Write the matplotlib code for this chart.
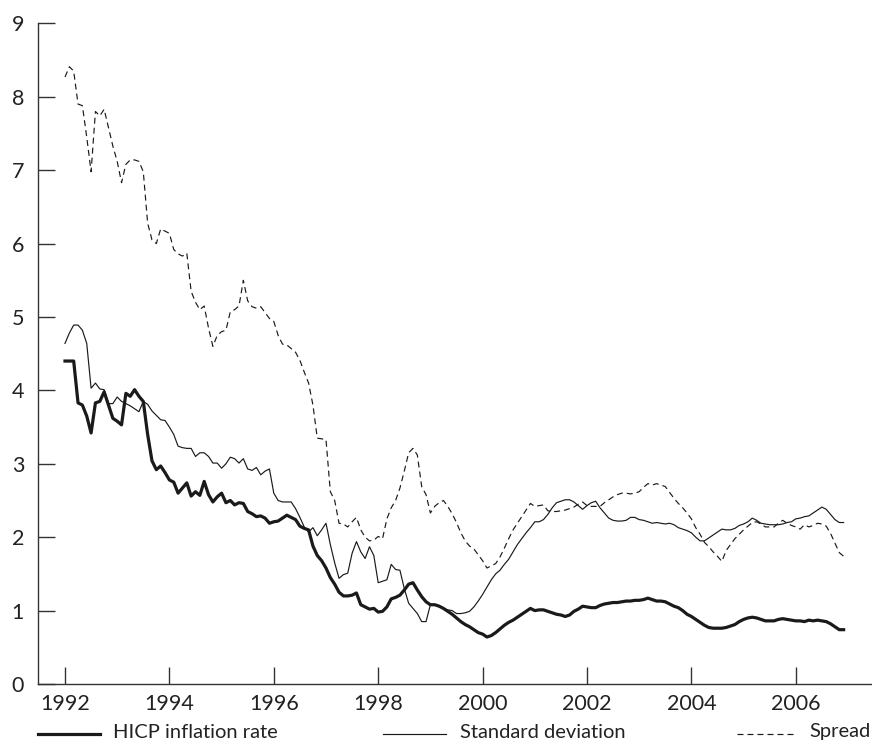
import numpy as np
import matplotlib
matplotlib.use("Agg")
import matplotlib.pyplot as plt
from matplotlib.lines import Line2D

plt.rcParams['font.family'] = ['Lato', 'DejaVu Sans']
plt.rcParams['lines.scale_dashes'] = False

start_year = 1992
n_months = 180
years = start_year + np.arange(n_months) / 12.0

hicp = [
    4.40, 4.40, 4.40, 3.83, 3.80, 3.65, 3.42, 3.83, 3.85, 3.98, 3.80, 3.62,
    3.58, 3.53, 3.96, 3.92, 4.01, 3.92, 3.85, 3.40, 3.04, 2.92, 2.97, 2.88,
    2.78, 2.75, 2.60, 2.67, 2.74, 2.56, 2.62, 2.57, 2.76, 2.58, 2.48, 2.55,
    2.60, 2.47, 2.50, 2.44, 2.47, 2.46, 2.35, 2.32, 2.28, 2.29, 2.26, 2.19,
    2.21, 2.22, 2.26, 2.30, 2.27, 2.24, 2.15, 2.12, 2.10, 1.88, 1.75, 1.68,
    1.58, 1.45, 1.36, 1.25, 1.20, 1.20, 1.21, 1.24, 1.08, 1.05, 1.02, 1.03,
    0.98, 0.99, 1.05, 1.16, 1.18, 1.21, 1.28, 1.36, 1.38, 1.28, 1.19, 1.12,
    1.08, 1.08, 1.06, 1.03, 0.99, 0.95, 0.90, 0.85, 0.81, 0.78, 0.74, 0.70,
    0.68, 0.64, 0.66, 0.70, 0.75, 0.80, 0.84, 0.87, 0.91, 0.95, 0.99, 1.03,
    1.00, 1.01, 1.01, 0.99, 0.97, 0.95, 0.94, 0.92, 0.94, 0.99, 1.02, 1.06,
    1.05, 1.04, 1.04, 1.07, 1.09, 1.10, 1.11, 1.11, 1.12, 1.13, 1.13, 1.14,
    1.14, 1.15, 1.17, 1.15, 1.13, 1.13, 1.12, 1.09, 1.06, 1.04, 1.00, 0.95,
    0.92, 0.88, 0.84, 0.80, 0.77, 0.76, 0.76, 0.76, 0.77, 0.79, 0.81, 0.85,
    0.88, 0.90, 0.91, 0.90, 0.88, 0.86, 0.86, 0.86, 0.88, 0.89, 0.88, 0.87,
    0.86, 0.86, 0.85, 0.87, 0.86, 0.87, 0.86, 0.85, 0.82, 0.78, 0.74, 0.74,
]

std_dev = [
    4.64, 4.78, 4.89, 4.89, 4.82, 4.64, 4.03, 4.10, 4.02, 4.01, 3.82, 3.82,
    3.91, 3.85, 3.82, 3.79, 3.75, 3.71, 3.85, 3.81, 3.72, 3.66, 3.60, 3.59,
    3.50, 3.40, 3.24, 3.22, 3.21, 3.21, 3.10, 3.15, 3.15, 3.10, 3.01, 3.01,
    2.94, 3.00, 3.09, 3.07, 3.01, 3.07, 2.93, 2.91, 2.95, 2.85, 2.90, 2.93,
    2.60, 2.50, 2.48, 2.48, 2.48, 2.39, 2.27, 2.14, 2.07, 2.13, 2.02, 2.10,
    2.19, 1.90, 1.65, 1.44, 1.49, 1.51, 1.78, 1.94, 1.80, 1.71, 1.87, 1.75,
    1.38, 1.40, 1.42, 1.63, 1.56, 1.55, 1.30, 1.10, 1.03, 0.96, 0.85, 0.85,
    1.08, 1.08, 1.07, 1.03, 1.01, 1.00, 0.96, 0.96, 0.97, 0.99, 1.05, 1.13,
    1.22, 1.32, 1.42, 1.50, 1.55, 1.63, 1.70, 1.80, 1.90, 1.98, 2.06, 2.13,
    2.21, 2.21, 2.24, 2.31, 2.40, 2.47, 2.49, 2.51, 2.51, 2.48, 2.43, 2.38,
    2.43, 2.47, 2.49, 2.40, 2.33, 2.26, 2.23, 2.22, 2.22, 2.23, 2.27, 2.27,
    2.24, 2.23, 2.21, 2.19, 2.20, 2.19, 2.18, 2.19, 2.17, 2.13, 2.11, 2.09,
    2.06, 2.00, 1.95, 1.95, 1.99, 2.03, 2.07, 2.11, 2.10, 2.10, 2.12, 2.16,
    2.18, 2.21, 2.26, 2.23, 2.19, 2.18, 2.17, 2.17, 2.17, 2.18, 2.20, 2.21,
    2.25, 2.26, 2.28, 2.29, 2.33, 2.37, 2.41, 2.38, 2.31, 2.24, 2.20, 2.20,
]

spread = [
    8.27, 8.41, 8.35, 7.90, 7.88, 7.45, 6.98, 7.80, 7.74, 7.83, 7.58, 7.33,
    7.12, 6.83, 7.08, 7.14, 7.14, 7.12, 6.98, 6.28, 6.05, 6.00, 6.20, 6.17,
    6.14, 5.92, 5.86, 5.83, 5.87, 5.35, 5.20, 5.10, 5.15, 4.85, 4.60, 4.75,
    4.80, 4.82, 5.07, 5.10, 5.15, 5.50, 5.22, 5.14, 5.12, 5.14, 5.06, 4.98,
    4.94, 4.75, 4.63, 4.62, 4.57, 4.52, 4.41, 4.25, 4.10, 3.80, 3.35, 3.34,
    3.33, 2.62, 2.50, 2.19, 2.18, 2.14, 2.21, 2.27, 2.10, 2.00, 1.95, 1.96,
    2.01, 1.98, 2.25, 2.40, 2.50, 2.67, 2.90, 3.15, 3.21, 3.12, 2.69, 2.58,
    2.33, 2.42, 2.47, 2.50, 2.42, 2.32, 2.20, 2.06, 1.95, 1.88, 1.84, 1.76,
    1.68, 1.58, 1.61, 1.64, 1.73, 1.85, 1.98, 2.10, 2.19, 2.28, 2.37, 2.46,
    2.42, 2.43, 2.44, 2.36, 2.35, 2.35, 2.36, 2.37, 2.39, 2.41, 2.45, 2.48,
    2.43, 2.42, 2.42, 2.42, 2.47, 2.51, 2.55, 2.58, 2.60, 2.60, 2.59, 2.60,
    2.62, 2.68, 2.73, 2.71, 2.73, 2.71, 2.69, 2.61, 2.53, 2.46, 2.40, 2.33,
    2.25, 2.13, 2.04, 1.93, 1.87, 1.80, 1.74, 1.67, 1.82, 1.90, 1.98, 2.04,
    2.10, 2.15, 2.20, 2.21, 2.18, 2.14, 2.14, 2.14, 2.19, 2.23, 2.19, 2.16,
    2.14, 2.11, 2.17, 2.14, 2.16, 2.19, 2.18, 2.15, 2.05, 1.92, 1.79, 1.74,
]

x_ticks = [1992, 1994, 1996, 1998, 2000, 2002, 2004, 2006]
y_ticks = [0, 1, 2, 3, 4, 5, 6, 7, 8, 9]
labels = ["HICP inflation rate", "Standard deviation", "Spread"]

W, H = 872, 742
fig = plt.figure(figsize=(W / 100, H / 100), dpi=100)
ax = fig.add_axes([38 / W, (H - 684) / H, (W - 38) / W, (684 - 23.4) / H])

ink = "#1a1a1a"
txt = "#222222"
ax.plot(years, hicp, color=ink, lw=2.3, solid_joinstyle='round')
ax.plot(years, std_dev, color=ink, lw=0.85)
ax.plot(years, spread, color=ink, lw=0.85, dashes=(4.3, 2.9))

ax.set_xlim(1991.483, 2007.46)
ax.set_ylim(0, 9)
ax.set_xticks(x_ticks)
ax.set_yticks(y_ticks)
for s in ["top", "right"]:
    ax.spines[s].set_visible(False)
for s in ["left", "bottom"]:
    ax.spines[s].set_color("#333333")
    ax.spines[s].set_linewidth(1.0)
ax.tick_params(axis='both', direction='in', length=12.2, width=1.0,
               color="#333333", labelsize=15.5, labelcolor=txt)
ax.tick_params(axis='y', pad=10)
ax.tick_params(axis='x', pad=7)

# legend row beneath the axes
ly = 1 - 734 / H
tb = 1 - 737.5 / H
fs = 14.5
fig.add_artist(Line2D([38 / W, 100 / W], [ly, ly], color=ink, lw=2.3))
fig.text(113 / W, tb, labels[0], ha='left', va='baseline', fontsize=fs, color=txt)
fig.add_artist(Line2D([383 / W, 446 / W], [ly, ly], color=ink, lw=0.85))
fig.text(460 / W, tb, labels[1], ha='left', va='baseline', fontsize=fs, color=txt)
fig.add_artist(Line2D([737 / W, 797 / W], [ly, ly], color=ink, lw=0.85, dashes=(4.3, 2.9)))
fig.text(809 / W, tb, labels[2], ha='left', va='baseline', fontsize=fs, color=txt)

fig.savefig("out.png", dpi=100)
